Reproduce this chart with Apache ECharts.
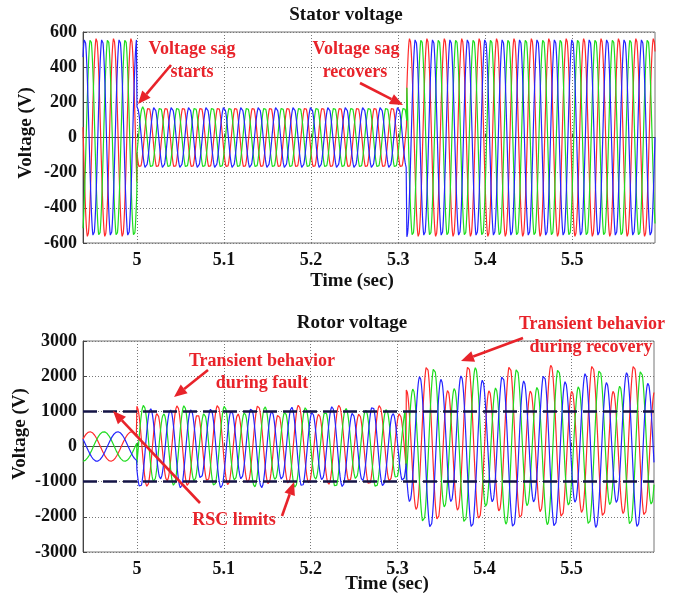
<!DOCTYPE html>
<html><head><meta charset="utf-8">
<script src="https://cdn.jsdelivr.net/npm/echarts@6/dist/echarts.min.js"></script>
<style>html,body{margin:0;padding:0;background:#fff}#c{width:680px;height:603px}</style>
</head><body><div id="c"></div>
<script>
// ---- values ----
const timeRange = [4.938, 5.595];          // visible time window (sec)
const eventTimes = [5.0, 5.31];            // sag starts, sag recovers
const xTicks = [5, 5.1, 5.2, 5.3, 5.4, 5.5];
const statorTicks = [-600, -400, -200, 0, 200, 400, 600];
const rotorTicks = [-3000, -2000, -1000, 0, 1000, 2000, 3000];
const phaseColors = ['#ff2b2b', '#1fdc1f', '#2424ff'];   // red, green, blue

// stator: 50 Hz, peak per period [pre-sag, sag, recovered]
const statorFreq = 50;
const statorAmp = [565, 175, 565];
const statorPhaseDeg = [210, 330, 90];     // phase of each colour at t = 5.0 s

// rotor: slip-frequency (forced) part and natural (transient) part per period
const rotorSlipFreq = 20.8;
const rotorSlipAmp = [420, 130, 380];
const rotorSlipPeak = [4.946, 4.962, 4.978];  // peak times of red, green, blue before fault
const rotorNatFreq = [0, 43, 42];
const rotorNatAmp = [0, 1050, 1950];
const rotorNatPhaseDeg = [0, 240, 120];
const rscLimits = [1000, -1000];

// ---- build the series ----
const dt = 0.0002;
function period(t) { return t < eventTimes[0] ? 0 : (t < eventTimes[1] ? 1 : 2); }
function statorSeries(k) {
  const out = [];
  for (let t = timeRange[0]; t <= timeRange[1] + 1e-9; t += dt) {
    const p = period(t);
    const v = statorAmp[p] * Math.sin(2 * Math.PI * statorFreq * (t - 5) + statorPhaseDeg[k] * Math.PI / 180);
    out.push([+t.toFixed(5), +v.toFixed(1)]);
  }
  return out;
}
function rotorSeries(k) {
  const out = [];
  for (let t = timeRange[0]; t <= timeRange[1] + 1e-9; t += dt) {
    const p = period(t);
    let v = rotorSlipAmp[p] * Math.cos(2 * Math.PI * rotorSlipFreq * (t - rotorSlipPeak[k]));
    if (p > 0) {
      const t0 = eventTimes[p - 1];
      v += rotorNatAmp[p] * Math.sin(2 * Math.PI * rotorNatFreq[p] * (t - t0) + (rotorNatPhaseDeg[k] + 90) * Math.PI / 180);
    }
    out.push([+t.toFixed(5), +v.toFixed(1)]);
  }
  return out;
}

const FONT = '"Liberation Serif", "Times New Roman", serif';
const RED = '#e8232a';

function xAxisCfg(gi) {
  return {
    type: 'value', gridIndex: gi, min: timeRange[0], max: timeRange[1],
    axisLine: { show: true, lineStyle: { color: '#444', width: 1 } },
    axisTick: { show: true, inside: true, length: 4, customValues: xTicks, lineStyle: { color: '#444' } },
    axisLabel: { customValues: xTicks, formatter: v => String(+(+v).toFixed(1)), color: '#111',
      fontFamily: FONT, fontWeight: 'bold', fontSize: 18, margin: 8 },
    splitLine: { show: true, lineStyle: { color: '#777', type: [1, 2], width: 1 } }
  };
}
function yAxisCfg(gi, ticks) {
  return {
    type: 'value', gridIndex: gi, min: ticks[0], max: ticks[ticks.length - 1],
    interval: ticks[1] - ticks[0],
    axisLine: { show: true, lineStyle: { color: '#444', width: 1 } },
    axisTick: { show: true, inside: true, length: 4, lineStyle: { color: '#444' } },
    axisLabel: { formatter: v => String(v), color: '#111', fontFamily: FONT, fontWeight: 'bold', fontSize: 18, margin: 6 },
    splitLine: { show: true, lineStyle: { color: '#777', type: [1, 2], width: 1 } }
  };
}

const series = [];
for (let k = 0; k < 3; k++) {
  series.push({ type: 'line', xAxisIndex: 0, yAxisIndex: 0, data: statorSeries(k), showSymbol: false,
    symbol: 'none', lineStyle: { color: phaseColors[k], width: 1.2 }, itemStyle: { color: phaseColors[k] },
    animation: false, silent: true });
}
for (let k = 0; k < 3; k++) {
  const s = { type: 'line', xAxisIndex: 1, yAxisIndex: 1, data: rotorSeries(k), showSymbol: false,
    symbol: 'none', lineStyle: { color: phaseColors[k], width: 1.2 }, itemStyle: { color: phaseColors[k] },
    animation: false, silent: true };
  if (k === 2) {
    s.markLine = { silent: true, symbol: 'none', label: { show: false }, animation: false,
      lineStyle: { color: '#141446', width: 2.6, type: [14, 6] },
      data: rscLimits.map(v => ({ yAxis: v })) };
  }
  series.push(s);
}

function txt(x, y, text, color, size, rot) {
  const el = { type: 'text', x: x, y: y, z: 100,
    style: { text: text, fill: color, font: 'bold ' + size + 'px ' + FONT, align: 'center', verticalAlign: 'middle' } };
  if (rot) el.rotation = rot;
  return el;
}
function arrow(x1, y1, x2, y2) {
  const ang = Math.atan2(y2 - y1, x2 - x1), L = 13, W = 5.5;
  const bx = x2 - L * Math.cos(ang), by = y2 - L * Math.sin(ang);
  const px = -Math.sin(ang) * W, py = Math.cos(ang) * W;
  return [
    { type: 'line', z: 100, shape: { x1: x1, y1: y1, x2: bx, y2: by }, style: { stroke: RED, lineWidth: 2.6 } },
    { type: 'polygon', z: 100, shape: { points: [[x2, y2], [bx + px, by + py], [bx - px, by - py]] }, style: { fill: RED } }
  ];
}

const graphic = [
  txt(346, 15, 'Stator voltage', '#111', 19),
  txt(352, 281, 'Time (sec)', '#111', 19),
  txt(26, 133, 'Voltage (V)', '#111', 19, Math.PI / 2),
  txt(352, 323, 'Rotor voltage', '#111', 19),
  txt(387, 584, 'Time (sec)', '#111', 19),
  txt(20, 434, 'Voltage (V)', '#111', 19, Math.PI / 2),
  txt(192, 49, 'Voltage sag', RED, 18), txt(192, 72, 'starts', RED, 18),
  txt(356, 49, 'Voltage sag', RED, 18), txt(355, 72, 'recovers', RED, 18),
  txt(262, 361, 'Transient behavior', RED, 18), txt(262, 383, 'during fault', RED, 18),
  txt(592, 324, 'Transient behavior', RED, 18), txt(591, 347, 'during recovery', RED, 18),
  txt(234, 520, 'RSC limits', RED, 18)
].concat(
  arrow(171, 65, 138, 104), arrow(360, 83, 403, 105), arrow(208, 370, 174, 397),
  arrow(523, 338, 461, 361), arrow(200, 503, 113, 411), arrow(282, 516, 294, 482)
);

const chart = echarts.init(document.getElementById('c'), null, { renderer: 'canvas' });
chart.setOption({
  backgroundColor: '#fff',
  animation: false,
  grid: [
    { left: 83, top: 32, width: 572, height: 211, show: true, borderColor: '#777', borderWidth: 1, backgroundColor: 'transparent' },
    { left: 83, top: 341, width: 571, height: 211, show: true, borderColor: '#777', borderWidth: 1, backgroundColor: 'transparent' }
  ],
  xAxis: [xAxisCfg(0), xAxisCfg(1)],
  yAxis: [yAxisCfg(0, statorTicks), yAxisCfg(1, rotorTicks)],
  series: series,
  graphic: graphic
});
</script></body></html>
